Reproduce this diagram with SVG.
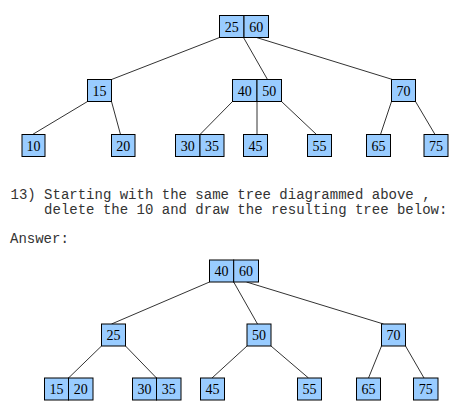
<svg xmlns="http://www.w3.org/2000/svg" width="469" height="417" viewBox="0 0 469 417">
<style>
.c{fill:#99ccff;stroke:#000;stroke-width:1}
.t{font-family:"Liberation Serif","Times New Roman",serif;font-size:14px;text-anchor:middle;fill:#000}
.e{stroke:#333;stroke-width:1;fill:none}
.m{font-family:"Liberation Mono","Courier New",monospace;font-size:14px;fill:#333;white-space:pre}
</style>
<rect width="469" height="417" fill="#fff"/>
<g id="edges-top" class="e">
<line x1="219.5" y1="37.5" x2="111.5" y2="79.5"/>
<line x1="243.5" y1="37.5" x2="267.5" y2="79.5"/>
<line x1="256.5" y1="37.5" x2="392.5" y2="79.5"/>
<line x1="87.5" y1="101.5" x2="32.5" y2="134.5"/>
<line x1="111.5" y1="101.5" x2="120.5" y2="134.5"/>
<line x1="232.5" y1="101.5" x2="200" y2="134.5"/>
<line x1="257" y1="101.5" x2="257" y2="134.5"/>
<line x1="281.5" y1="101.5" x2="316.5" y2="134.5"/>
<line x1="391.5" y1="101.5" x2="380.5" y2="134.5"/>
<line x1="415.5" y1="101.5" x2="435" y2="134.5"/>
</g>
<g id="t-root"><rect class="c" x="219.5" y="15.5" width="24.5" height="22"/><rect class="c" x="244" y="15.5" width="24.5" height="22"/><text class="t" x="231.7" y="31.5">25</text><text class="t" x="256.2" y="31.5">60</text></g>
<g id="t-15"><rect class="c" x="87.5" y="79.5" width="24" height="22"/><text class="t" x="99.5" y="95.5">15</text></g>
<g id="t-4050"><rect class="c" x="232.5" y="79.5" width="24.5" height="22"/><rect class="c" x="257" y="79.5" width="24.5" height="22"/><text class="t" x="244.7" y="95.5">40</text><text class="t" x="269.2" y="95.5">50</text></g>
<g id="t-70"><rect class="c" x="391.5" y="79.5" width="24" height="22"/><text class="t" x="403.5" y="95.5">70</text></g>
<g id="t-10"><rect class="c" x="22" y="134.5" width="23" height="22"/><text class="t" x="33.5" y="150.5">10</text></g>
<g id="t-20"><rect class="c" x="111.5" y="134.5" width="23.5" height="22"/><text class="t" x="123.2" y="150.5">20</text></g>
<g id="t-3035"><rect class="c" x="175.5" y="134.5" width="24.5" height="22"/><rect class="c" x="200" y="134.5" width="24" height="22"/><text class="t" x="187.7" y="150.5">30</text><text class="t" x="212" y="150.5">35</text></g>
<g id="t-45"><rect class="c" x="243.5" y="134.5" width="24" height="22"/><text class="t" x="255.5" y="150.5">45</text></g>
<g id="t-55"><rect class="c" x="307.5" y="134.5" width="24" height="22"/><text class="t" x="319.5" y="150.5">55</text></g>
<g id="t-65"><rect class="c" x="366.5" y="134.5" width="24" height="22"/><text class="t" x="378.5" y="150.5">65</text></g>
<g id="t-75"><rect class="c" x="424" y="134.5" width="24" height="22"/><text class="t" x="436" y="150.5">75</text></g>
<g id="question">
<text class="m" x="10.5" y="199">13) Starting with the same tree diagrammed above ,</text>
<text class="m" x="10.5" y="214">    delete the 10 and draw the resulting tree below:</text>
<text class="m" x="10" y="243">Answer:</text>
</g>
<g id="edges-bottom" class="e">
<line x1="209.5" y1="282" x2="111.5" y2="324"/>
<line x1="233.7" y1="282" x2="257.5" y2="324"/>
<line x1="246.5" y1="282" x2="383.5" y2="324"/>
<line x1="101.5" y1="346" x2="68.5" y2="378"/>
<line x1="125.5" y1="346" x2="156.5" y2="378"/>
<line x1="247" y1="346" x2="212" y2="378"/>
<line x1="271" y1="346" x2="308.5" y2="378"/>
<line x1="381.5" y1="346" x2="368.5" y2="378"/>
<line x1="405.5" y1="346" x2="424" y2="378"/>
</g>
<g id="b-root"><rect class="c" x="209.5" y="260" width="24.2" height="22"/><rect class="c" x="233.7" y="260" width="24.8" height="22"/><text class="t" x="221.6" y="276">40</text><text class="t" x="246.1" y="276">60</text></g>
<g id="b-25"><rect class="c" x="101.5" y="324" width="24" height="22"/><text class="t" x="113.5" y="340">25</text></g>
<g id="b-50"><rect class="c" x="247" y="324" width="24" height="22"/><text class="t" x="259" y="340">50</text></g>
<g id="b-70"><rect class="c" x="381.5" y="324" width="24" height="22"/><text class="t" x="393.5" y="340">70</text></g>
<g id="b-1520"><rect class="c" x="44.5" y="378" width="24" height="22"/><rect class="c" x="68.5" y="378" width="24.5" height="22"/><text class="t" x="56.5" y="394">15</text><text class="t" x="80.7" y="394">20</text></g>
<g id="b-3035"><rect class="c" x="132.5" y="378" width="24" height="22"/><rect class="c" x="156.5" y="378" width="24.5" height="22"/><text class="t" x="144.5" y="394">30</text><text class="t" x="168.7" y="394">35</text></g>
<g id="b-45"><rect class="c" x="200.5" y="378" width="24" height="22"/><text class="t" x="212.5" y="394">45</text></g>
<g id="b-55"><rect class="c" x="297.5" y="378" width="24" height="22"/><text class="t" x="309.5" y="394">55</text></g>
<g id="b-65"><rect class="c" x="356.5" y="378" width="24" height="22"/><text class="t" x="368.5" y="394">65</text></g>
<g id="b-75"><rect class="c" x="413.5" y="378" width="24.5" height="22"/><text class="t" x="425.7" y="394">75</text></g>
</svg>
